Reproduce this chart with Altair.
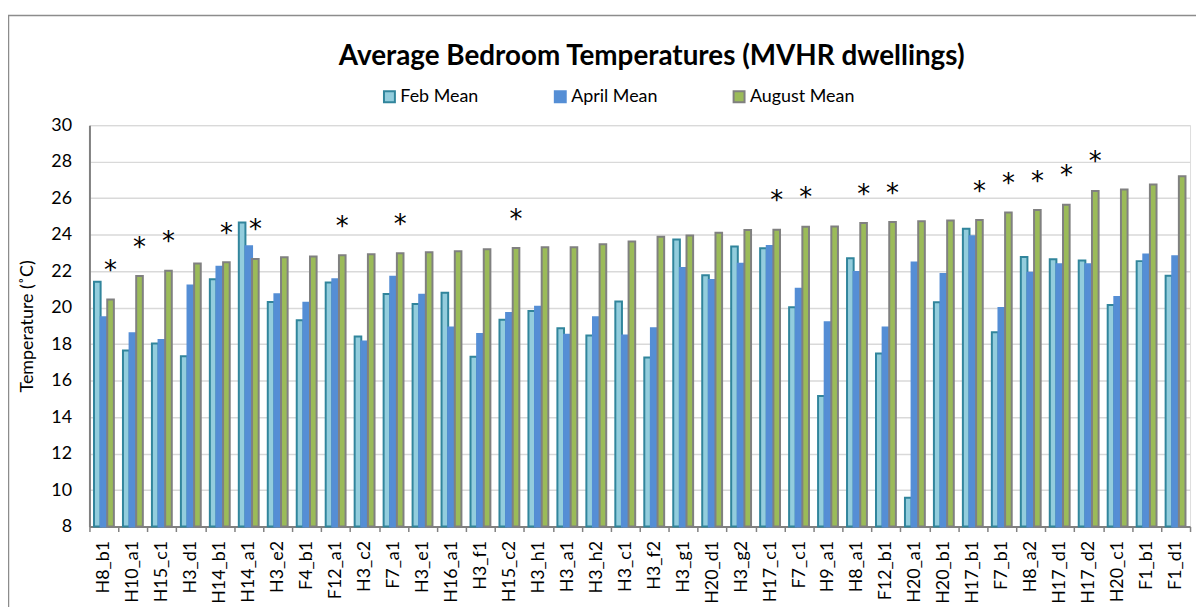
import altair as alt
import pandas as pd

categories = ["H8_b1", "H10_a1", "H15_c1", "H3_d1", "H14_b1", "H14_a1", "H3_e2", "F4_b1",
              "F12_a1", "H3_c2", "F7_a1", "H3_e1", "H16_a1", "H3_f1", "H15_c2", "H3_h1",
              "H3_a1", "H3_h2", "H3_c1", "H3_f2", "H3_g1", "H20_d1", "H3_g2", "H17_c1",
              "F7_c1", "H9_a1", "H8_a1", "F12_b1", "H20_a1", "H20_b1", "H17_b1", "F7_b1",
              "H8_a2", "H17_d1", "H17_d2", "H20_c1", "F1_b1", "F1_d1"]

feb_mean = [21.42, 17.65, 18.04, 17.33, 21.55, 24.67, 20.31, 19.31, 21.38, 18.42, 20.75, 20.20,
            20.82, 17.31, 19.33, 19.82, 18.87, 18.47, 20.33, 17.27, 23.73, 21.78, 23.35, 23.25,
            20.02, 15.15, 22.71, 17.49, 9.58, 20.29, 24.33, 18.65, 22.78, 22.65, 22.58, 20.15,
            22.55, 21.75]

april_mean = [19.47, 18.60, 18.22, 21.22, 22.24, 23.36, 20.73, 20.27, 21.56, 18.15, 21.69, 20.71,
              18.91, 18.56, 19.71, 20.05, 18.51, 19.47, 18.47, 18.87, 22.18, 21.51, 22.40, 23.38,
              21.04, 19.20, 21.95, 18.91, 22.47, 21.84, 23.91, 19.98, 21.91, 22.38, 22.38, 20.58,
              22.91, 22.82]

august_mean = [20.45, 21.73, 22.02, 22.42, 22.49, 22.67, 22.76, 22.80, 22.87, 22.93, 22.98, 23.04,
               23.09, 23.20, 23.27, 23.31, 23.31, 23.47, 23.62, 23.89, 23.96, 24.11, 24.25, 24.27,
               24.44, 24.45, 24.64, 24.69, 24.73, 24.78, 24.80, 25.22, 25.35, 25.64, 26.40, 26.47,
               26.75, 27.20]

starred = ["H8_b1", "H10_a1", "H15_c1", "H14_b1", "H14_a1", "F12_a1", "F7_a1", "H15_c2",
           "H17_c1", "F7_c1", "H8_a1", "F12_b1", "H17_b1", "F7_b1", "H8_a2", "H17_d1", "H17_d2"]

series_names = ["Feb Mean", "April Mean", "August Mean"]
fill_colors = ["#93CDDD", "#558ED5", "#9BBB59"]
stroke_colors = ["#31859C", "#558ED5", "#808080"]
y_ticks = [8, 10, 12, 14, 16, 18, 20, 22, 24, 26, 28, 30]

rows = []
for i, c in enumerate(categories):
    for s, vals in zip(series_names, [feb_mean, april_mean, august_mean]):
        rows.append({"house": c, "series": s, "temp": vals[i]})
df = pd.DataFrame(rows)

star_df = pd.DataFrame({
    "house": starred,
    "series": ["August Mean"] * len(starred),
    "temp": [august_mean[categories.index(h)] for h in starred],
})

W, H = 1108, 404
FONT = "Lato"

x_axis = alt.Axis(title=None, labelAngle=-90, labelAlign="right", labelBaseline="middle",
                  tickBand="extent", tickSize=5, tickColor="#808080", tickWidth=1.5,
                  domainColor="#808080", domainWidth=2, labelFont=FONT,
                  labelFontSize=18, labelColor="#000000", labelPadding=9,
                  labelOverlap=False, grid=False)
y_axis = alt.Axis(values=y_ticks, title="Temperature (˚C)", titleFont=FONT,
                  titleFontSize=18, titleFontWeight="normal", titleColor="#000000",
                  titlePadding=14, labelFont=FONT, labelFontSize=18,
                  labelColor="#000000", labelPadding=18, ticks=False,
                  labelOverlap=False, labelFlush=False,
                  domainColor="#808080", domainWidth=2, grid=True,
                  gridColor="#D9D9D9", gridWidth=1.3)

x_scale = alt.Scale(domain=categories, paddingInner=0, paddingOuter=0)
xoff_scale = alt.Scale(domain=series_names, paddingInner=0, paddingOuter=0.686)
y_scale = alt.Scale(domain=[8, 30], nice=False, zero=False)

legend = alt.Legend(title=None, orient="none", legendX=293, legendY=-38, direction="horizontal",
                    symbolType="square", symbolSize=121, symbolStrokeWidth=2,
                    labelFont=FONT, labelFontSize=18, labelColor="#000000",
                    columnPadding=72, labelOffset=2)

bars = alt.Chart(df).mark_bar(strokeWidth=2).encode(
    x=alt.X("house:N", sort=categories, scale=x_scale, axis=x_axis),
    xOffset=alt.XOffset("series:N", sort=series_names, scale=xoff_scale),
    y=alt.Y("temp:Q", scale=y_scale, axis=y_axis),
    y2=alt.datum(8),
    fill=alt.Fill("series:N", sort=series_names,
                  scale=alt.Scale(domain=series_names, range=fill_colors), legend=legend),
    stroke=alt.Stroke("series:N", sort=series_names,
                      scale=alt.Scale(domain=series_names, range=stroke_colors), legend=legend),
)

stars = alt.Chart(star_df).mark_text(text="*", font="DejaVu Sans", fontSize=26,
                                     baseline="alphabetic", align="center", dy=-20.6,
                                     color="#000000").encode(
    x=alt.X("house:N", sort=categories, scale=x_scale, axis=x_axis),
    xOffset=alt.XOffset("series:N", sort=series_names, scale=xoff_scale),
    y=alt.Y("temp:Q", scale=y_scale, axis=y_axis),
)

border = alt.Chart(alt.Data(values=[{"k": 1}])).mark_rect(
    fillOpacity=0, stroke="#8C8C8C", strokeWidth=1.5).encode(
    x=alt.value(-81.5), x2=alt.value(W + 60), y=alt.value(-110.5), y2=alt.value(H + 200))

chart = alt.layer(border, bars, stars).properties(
    width=W, height=H,
    autosize=alt.AutoSizeParams(type="none"),
    padding={"left": 82, "top": 116, "right": 6, "bottom": 79},
    title=alt.TitleParams("Average Bedroom Temperatures (MVHR dwellings)", font=FONT,
                          fontSize=28, fontWeight="bold", color="#000000", anchor="middle",
                          frame="group", offset=0, dy=57, dx=12),
).configure_view(
    stroke="#898989", strokeWidth=2, fill="#F8F8F8"
).configure(background="#FFFFFF")

chart.save("out.html", embed_options={"renderer": "svg", "actions": False})
